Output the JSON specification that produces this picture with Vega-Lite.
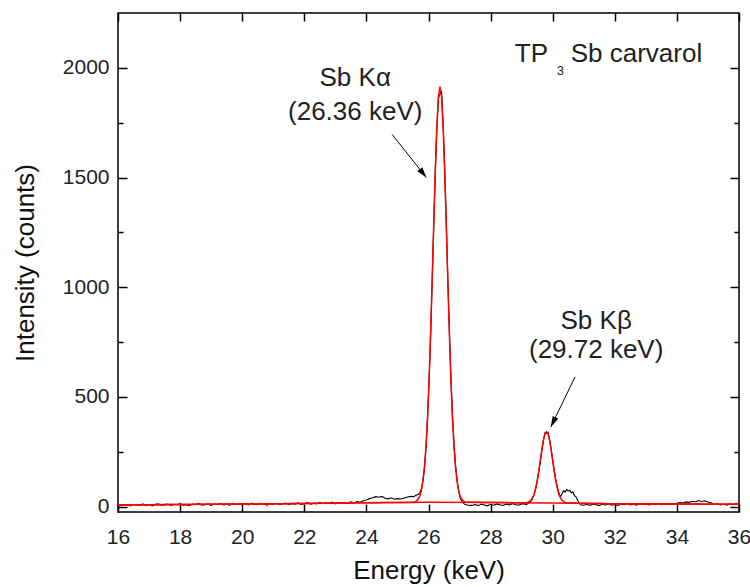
{
  "$schema": "https://vega.github.io/schema/vega-lite/v6.json",
  "width": 621,
  "height": 499,
  "autosize": "none",
  "padding": {"left": 118, "top": 13, "right": 11, "bottom": 75},
  "background": "white",
  "config": {
    "view": {"stroke": "black", "strokeWidth": 1.5},
    "font": "Liberation Sans",
    "text": {"font": "Liberation Sans"}
  },
  "datasets": {
    "spec": [
      {"e":16.0,"meas":9,"fit":7},{"e":16.1,"meas":4,"fit":7},{"e":16.2,"meas":10,"fit":7},{"e":16.3,"meas":6,"fit":7},{"e":16.4,"meas":3,"fit":7},
      {"e":16.5,"meas":10,"fit":8},{"e":16.6,"meas":7,"fit":8},{"e":16.7,"meas":5,"fit":8},{"e":16.8,"meas":12,"fit":8},{"e":16.9,"meas":4,"fit":8},
      {"e":17.0,"meas":9,"fit":8},{"e":17.1,"meas":3,"fit":8},{"e":17.2,"meas":10,"fit":8},{"e":17.3,"meas":12,"fit":8},{"e":17.4,"meas":6,"fit":8},
      {"e":17.5,"meas":7,"fit":9},{"e":17.6,"meas":11,"fit":9},{"e":17.7,"meas":5,"fit":9},{"e":17.8,"meas":10,"fit":9},{"e":17.9,"meas":8,"fit":9},
      {"e":18.0,"meas":13,"fit":9},{"e":18.1,"meas":6,"fit":9},{"e":18.2,"meas":8,"fit":9},{"e":18.3,"meas":4,"fit":9},{"e":18.4,"meas":11,"fit":9},
      {"e":18.5,"meas":9,"fit":10},{"e":18.6,"meas":14,"fit":10},{"e":18.7,"meas":6,"fit":10},{"e":18.8,"meas":8,"fit":10},{"e":18.9,"meas":12,"fit":10},
      {"e":19.0,"meas":5,"fit":10},{"e":19.1,"meas":11,"fit":10},{"e":19.2,"meas":9,"fit":10},{"e":19.3,"meas":13,"fit":10},{"e":19.4,"meas":7,"fit":11},
      {"e":19.5,"meas":10,"fit":11},{"e":19.6,"meas":6,"fit":11},{"e":19.7,"meas":14,"fit":11},{"e":19.8,"meas":9,"fit":11},{"e":19.9,"meas":12,"fit":11},
      {"e":20.0,"meas":8,"fit":11},{"e":20.1,"meas":13,"fit":11},{"e":20.2,"meas":7,"fit":11},{"e":20.3,"meas":15,"fit":12},{"e":20.4,"meas":10,"fit":12},
      {"e":20.5,"meas":8,"fit":12},{"e":20.6,"meas":14,"fit":12},{"e":20.7,"meas":11,"fit":12},{"e":20.8,"meas":6,"fit":12},{"e":20.9,"meas":13,"fit":12},
      {"e":21.0,"meas":10,"fit":13},{"e":21.1,"meas":15,"fit":13},{"e":21.2,"meas":9,"fit":13},{"e":21.3,"meas":12,"fit":13},{"e":21.4,"meas":16,"fit":13},
      {"e":21.5,"meas":8,"fit":13},{"e":21.6,"meas":14,"fit":13},{"e":21.7,"meas":11,"fit":14},{"e":21.8,"meas":17,"fit":14},{"e":21.9,"meas":10,"fit":14},
      {"e":22.0,"meas":13,"fit":14},{"e":22.1,"meas":18,"fit":14},{"e":22.2,"meas":11,"fit":14},{"e":22.3,"meas":15,"fit":14},{"e":22.4,"meas":12,"fit":15},
      {"e":22.5,"meas":19,"fit":15},{"e":22.6,"meas":13,"fit":15},{"e":22.7,"meas":17,"fit":15},{"e":22.8,"meas":14,"fit":15},{"e":22.9,"meas":20,"fit":15},
      {"e":23.0,"meas":12,"fit":16},{"e":23.1,"meas":18,"fit":16},{"e":23.2,"meas":15,"fit":16},{"e":23.3,"meas":19,"fit":16},{"e":23.4,"meas":14,"fit":16},
      {"e":23.5,"meas":21,"fit":16},{"e":23.6,"meas":17,"fit":16},{"e":23.7,"meas":22,"fit":17},{"e":23.8,"meas":19,"fit":17},{"e":23.9,"meas":26,"fit":17},
      {"e":24.0,"meas":30,"fit":17},{"e":24.1,"meas":36,"fit":17},{"e":24.2,"meas":40,"fit":17},{"e":24.3,"meas":45,"fit":17},{"e":24.4,"meas":42,"fit":17},
      {"e":24.5,"meas":46,"fit":18},{"e":24.6,"meas":38,"fit":18},{"e":24.7,"meas":35,"fit":18},{"e":24.8,"meas":40,"fit":18},{"e":24.9,"meas":33,"fit":18},
      {"e":25.0,"meas":36,"fit":18},{"e":25.1,"meas":34,"fit":18},{"e":25.2,"meas":38,"fit":18},{"e":25.3,"meas":42,"fit":18},{"e":25.4,"meas":45,"fit":18},
      {"e":25.47,"meas":47,"fit":20},{"e":25.52,"meas":44,"fit":20},{"e":25.57,"meas":49,"fit":22},{"e":25.62,"meas":52,"fit":26},{"e":25.67,"meas":55,"fit":34},
      {"e":25.72,"meas":62,"fit":48},{"e":25.77,"meas":80,"fit":73},{"e":25.82,"meas":118,"fit":115},{"e":25.87,"meas":176,"fit":179},{"e":25.92,"meas":270,"fit":275},
      {"e":25.97,"meas":402,"fit":409},{"e":26.02,"meas":580,"fit":584},{"e":26.07,"meas":790,"fit":798},{"e":26.12,"meas":1035,"fit":1041},{"e":26.17,"meas":1290,"fit":1296},
      {"e":26.22,"meas":1530,"fit":1536},{"e":26.27,"meas":1728,"fit":1736},{"e":26.32,"meas":1862,"fit":1868},{"e":26.37,"meas":1880,"fit":1914},{"e":26.42,"meas":1895,"fit":1868},
      {"e":26.47,"meas":1745,"fit":1736},{"e":26.52,"meas":1545,"fit":1536},{"e":26.57,"meas":1305,"fit":1296},{"e":26.62,"meas":1050,"fit":1041},{"e":26.67,"meas":810,"fit":798},
      {"e":26.72,"meas":595,"fit":584},{"e":26.77,"meas":420,"fit":409},{"e":26.82,"meas":288,"fit":275},{"e":26.87,"meas":190,"fit":179},{"e":26.92,"meas":122,"fit":115},
      {"e":26.97,"meas":70,"fit":73},{"e":27.02,"meas":40,"fit":48},{"e":27.07,"meas":25,"fit":34},{"e":27.12,"meas":15,"fit":26},{"e":27.17,"meas":10,"fit":22},
      {"e":27.22,"meas":8,"fit":20},{"e":27.27,"meas":6,"fit":20},
      {"e":27.4,"meas":5,"fit":19},{"e":27.5,"meas":9,"fit":19},{"e":27.6,"meas":4,"fit":19},{"e":27.7,"meas":11,"fit":18},{"e":27.8,"meas":7,"fit":18},
      {"e":27.9,"meas":3,"fit":18},{"e":28.0,"meas":10,"fit":18},{"e":28.1,"meas":6,"fit":18},{"e":28.2,"meas":12,"fit":18},{"e":28.3,"meas":8,"fit":18},
      {"e":28.4,"meas":5,"fit":18},{"e":28.5,"meas":11,"fit":18},{"e":28.6,"meas":7,"fit":17},{"e":28.7,"meas":13,"fit":17},{"e":28.8,"meas":9,"fit":17},
      {"e":28.9,"meas":6,"fit":17},{"e":29.0,"meas":12,"fit":17},
      {"e":29.1,"meas":12,"fit":17},{"e":29.15,"meas":9,"fit":18},{"e":29.2,"meas":14,"fit":20},{"e":29.25,"meas":18,"fit":23},{"e":29.3,"meas":24,"fit":29},
      {"e":29.35,"meas":36,"fit":40},{"e":29.4,"meas":55,"fit":57},{"e":29.45,"meas":80,"fit":82},{"e":29.5,"meas":115,"fit":117},{"e":29.55,"meas":158,"fit":160},
      {"e":29.6,"meas":205,"fit":209},{"e":29.65,"meas":255,"fit":258},{"e":29.7,"meas":300,"fit":301},{"e":29.75,"meas":336,"fit":331},{"e":29.8,"meas":332,"fit":341},
      {"e":29.85,"meas":338,"fit":331},{"e":29.9,"meas":305,"fit":301},{"e":29.95,"meas":262,"fit":258},{"e":30.0,"meas":212,"fit":209},{"e":30.05,"meas":165,"fit":160},
      {"e":30.1,"meas":122,"fit":117},{"e":30.15,"meas":88,"fit":82},{"e":30.2,"meas":60,"fit":56},{"e":30.25,"meas":45,"fit":39},{"e":30.3,"meas":58,"fit":28},
      {"e":30.35,"meas":72,"fit":22},{"e":30.4,"meas":66,"fit":19},{"e":30.45,"meas":78,"fit":17},{"e":30.5,"meas":70,"fit":16},{"e":30.55,"meas":74,"fit":16},
      {"e":30.6,"meas":62,"fit":16},{"e":30.65,"meas":67,"fit":16},{"e":30.7,"meas":50,"fit":16},{"e":30.75,"meas":44,"fit":16},{"e":30.8,"meas":30,"fit":15},
      {"e":30.85,"meas":16,"fit":15},{"e":30.9,"meas":8,"fit":15},
      {"e":31.0,"meas":6,"fit":15},{"e":31.1,"meas":10,"fit":15},{"e":31.2,"meas":5,"fit":14},{"e":31.3,"meas":12,"fit":14},{"e":31.4,"meas":8,"fit":14},
      {"e":31.5,"meas":4,"fit":14},{"e":31.6,"meas":11,"fit":14},{"e":31.7,"meas":7,"fit":13},{"e":31.8,"meas":13,"fit":13},{"e":31.9,"meas":6,"fit":13},
      {"e":32.0,"meas":9,"fit":13},{"e":32.1,"meas":5,"fit":13},{"e":32.2,"meas":12,"fit":13},{"e":32.3,"meas":8,"fit":13},{"e":32.4,"meas":14,"fit":12},
      {"e":32.5,"meas":7,"fit":12},{"e":32.6,"meas":10,"fit":12},{"e":32.7,"meas":6,"fit":12},{"e":32.8,"meas":13,"fit":12},{"e":32.9,"meas":9,"fit":12},
      {"e":33.0,"meas":11,"fit":12},{"e":33.1,"meas":7,"fit":12},{"e":33.2,"meas":12,"fit":11},{"e":33.3,"meas":9,"fit":11},{"e":33.4,"meas":13,"fit":11},
      {"e":33.5,"meas":8,"fit":11},{"e":33.6,"meas":12,"fit":11},{"e":33.7,"meas":10,"fit":11},{"e":33.8,"meas":14,"fit":11},{"e":33.9,"meas":11,"fit":11},
      {"e":34.0,"meas":15,"fit":11},{"e":34.1,"meas":18,"fit":11},{"e":34.2,"meas":16,"fit":11},{"e":34.3,"meas":21,"fit":11},{"e":34.4,"meas":19,"fit":11},
      {"e":34.5,"meas":24,"fit":11},{"e":34.6,"meas":22,"fit":11},{"e":34.7,"meas":27,"fit":11},{"e":34.8,"meas":23,"fit":11},{"e":34.9,"meas":26,"fit":10},
      {"e":35.0,"meas":21,"fit":10},{"e":35.1,"meas":17,"fit":10},{"e":35.2,"meas":9,"fit":10},{"e":35.3,"meas":12,"fit":10},{"e":35.4,"meas":7,"fit":10},
      {"e":35.5,"meas":11,"fit":10},{"e":35.6,"meas":6,"fit":10},{"e":35.7,"meas":12,"fit":10},{"e":35.8,"meas":8,"fit":10},{"e":35.9,"meas":13,"fit":10},
      {"e":36.0,"meas":9,"fit":10}
    ],
    "background": [
      {"e":16,"bg":7},{"e":20,"bg":11},{"e":24,"bg":17},{"e":26,"bg":19},{"e":28,"bg":18},{"e":30,"bg":16},{"e":32,"bg":13},{"e":34,"bg":11},{"e":36,"bg":10}
    ],
    "arrows": [
      {"peak":"Ka","e1":24.83,"c1":1696,"e2":25.93,"c2":1500},
      {"peak":"Kb","e1":30.72,"c1":591,"e2":29.94,"c2":363}
    ],
    "labels": [
      {"e":23.64,"c":1915,"t":"Sb Kα"},
      {"e":23.64,"c":1762,"t":"(26.36 keV)"},
      {"e":31.40,"c":811,"t":"Sb Kβ"},
      {"e":31.40,"c":675,"t":"(29.72 keV)"}
    ],
    "title": [
      {"e":29.85,"c":2025,"t":"TP","part":"main","al":"right"},
      {"e":30.58,"c":2025,"t":"Sb carvarol","part":"main","al":"left"},
      {"e":30.13,"c":1967,"t":"3","part":"sub","al":"left"}
    ]
  },
  "layer": [
    {
      "data": {"name": "spec"},
      "mark": {"type": "line", "color": "black", "strokeWidth": 1.1},
      "encoding": {
        "x": {
          "field": "e", "type": "quantitative",
          "scale": {"domain": [16, 36], "nice": false, "zero": false},
          "axis": {
            "orient": "bottom",
            "values": [16,17,18,19,20,21,22,23,24,25,26,27,28,29,30,31,32,33,34,35,36],
            "labelExpr": "datum.value % 2 === 0 ? datum.label : ''",
            "ticks": false, "domain": false,
            "grid": true,
            "gridColor": "black", "gridOpacity": 1, "gridWidth": 1.5,
            "gridDash": {"condition": {"test": "datum.value % 2 === 0", "value": [8, 483, 8, 1000]}, "value": [4.5, 490, 4.5, 1000]},
            "labelFontSize": 21, "labelColor": "#222", "labelPadding": 14,
            "labelFlush": false, "labelOverlap": false,
            "title": "Energy (keV)", "titleFontSize": 26, "titleFontWeight": "normal",
            "titleColor": "#111", "titlePadding": 10
          }
        },
        "y": {
          "field": "meas", "type": "quantitative",
          "scale": {"domain": [-25, 2250], "nice": false, "zero": false},
          "axis": {
            "orient": "left",
            "values": [0,250,500,750,1000,1250,1500,1750,2000],
            "labelExpr": "datum.value % 500 === 0 ? datum.label : ''",
            "format": "d",
            "ticks": false, "domain": false,
            "grid": true,
            "gridColor": "black", "gridOpacity": 1, "gridWidth": 1.5,
            "gridDash": {"condition": {"test": "datum.value % 500 === 0", "value": [9, 603, 9, 1000]}, "value": [5, 611, 5, 1000]},
            "labelFontSize": 21, "labelColor": "#222", "labelPadding": 9,
            "labelFlush": false, "labelOverlap": false,
            "title": "Intensity (counts)", "titleFontSize": 26, "titleFontWeight": "normal",
            "titleColor": "#111", "titlePadding": 24
          }
        }
      }
    },
    {
      "data": {"name": "spec"},
      "mark": {"type": "line", "color": "#ff0000", "strokeWidth": 1.5},
      "encoding": {
        "x": {"field": "e", "type": "quantitative"},
        "y": {"field": "fit", "type": "quantitative"}
      }
    },
    {
      "data": {"name": "background"},
      "mark": {"type": "line", "color": "#ff0000", "strokeWidth": 1.5},
      "encoding": {
        "x": {"field": "e", "type": "quantitative"},
        "y": {"field": "bg", "type": "quantitative"}
      }
    },
    {
      "data": {"name": "arrows"},
      "mark": {"type": "rule", "color": "black", "strokeWidth": 1},
      "encoding": {
        "x": {"field": "e1", "type": "quantitative"},
        "y": {"field": "c1", "type": "quantitative"},
        "x2": {"field": "e2"},
        "y2": {"field": "c2"}
      }
    },
    {
      "data": {"name": "arrows"},
      "transform": [{"filter": "datum.peak === 'Ka'"}],
      "mark": {"type": "point", "shape": "M0,0L0.6,2L-0.6,2Z", "filled": true, "color": "black", "opacity": 1, "size": 110, "angle": 142},
      "encoding": {
        "x": {"field": "e2", "type": "quantitative"},
        "y": {"field": "c2", "type": "quantitative"}
      }
    },
    {
      "data": {"name": "arrows"},
      "transform": [{"filter": "datum.peak === 'Kb'"}],
      "mark": {"type": "point", "shape": "M0,0L0.6,2L-0.6,2Z", "filled": true, "color": "black", "opacity": 1, "size": 110, "angle": 206},
      "encoding": {
        "x": {"field": "e2", "type": "quantitative"},
        "y": {"field": "c2", "type": "quantitative"}
      }
    },
    {
      "data": {"name": "labels"},
      "mark": {"type": "text", "fontSize": 26, "align": "center", "baseline": "alphabetic", "color": "#222"},
      "encoding": {
        "x": {"field": "e", "type": "quantitative"},
        "y": {"field": "c", "type": "quantitative"},
        "text": {"field": "t"}
      }
    },
    {
      "data": {"name": "title"},
      "transform": [{"filter": "datum.part === 'main' && datum.al === 'right'"}],
      "mark": {"type": "text", "fontSize": 26, "align": "right", "baseline": "alphabetic", "color": "#222"},
      "encoding": {
        "x": {"field": "e", "type": "quantitative"},
        "y": {"field": "c", "type": "quantitative"},
        "text": {"field": "t"}
      }
    },
    {
      "data": {"name": "title"},
      "transform": [{"filter": "datum.part === 'main' && datum.al === 'left'"}],
      "mark": {"type": "text", "fontSize": 26, "align": "left", "baseline": "alphabetic", "color": "#222"},
      "encoding": {
        "x": {"field": "e", "type": "quantitative"},
        "y": {"field": "c", "type": "quantitative"},
        "text": {"field": "t"}
      }
    },
    {
      "data": {"name": "title"},
      "transform": [{"filter": "datum.part === 'sub'"}],
      "mark": {"type": "text", "fontSize": 13, "align": "left", "baseline": "alphabetic", "color": "#222"},
      "encoding": {
        "x": {"field": "e", "type": "quantitative"},
        "y": {"field": "c", "type": "quantitative"},
        "text": {"field": "t"}
      }
    }
  ]
}
